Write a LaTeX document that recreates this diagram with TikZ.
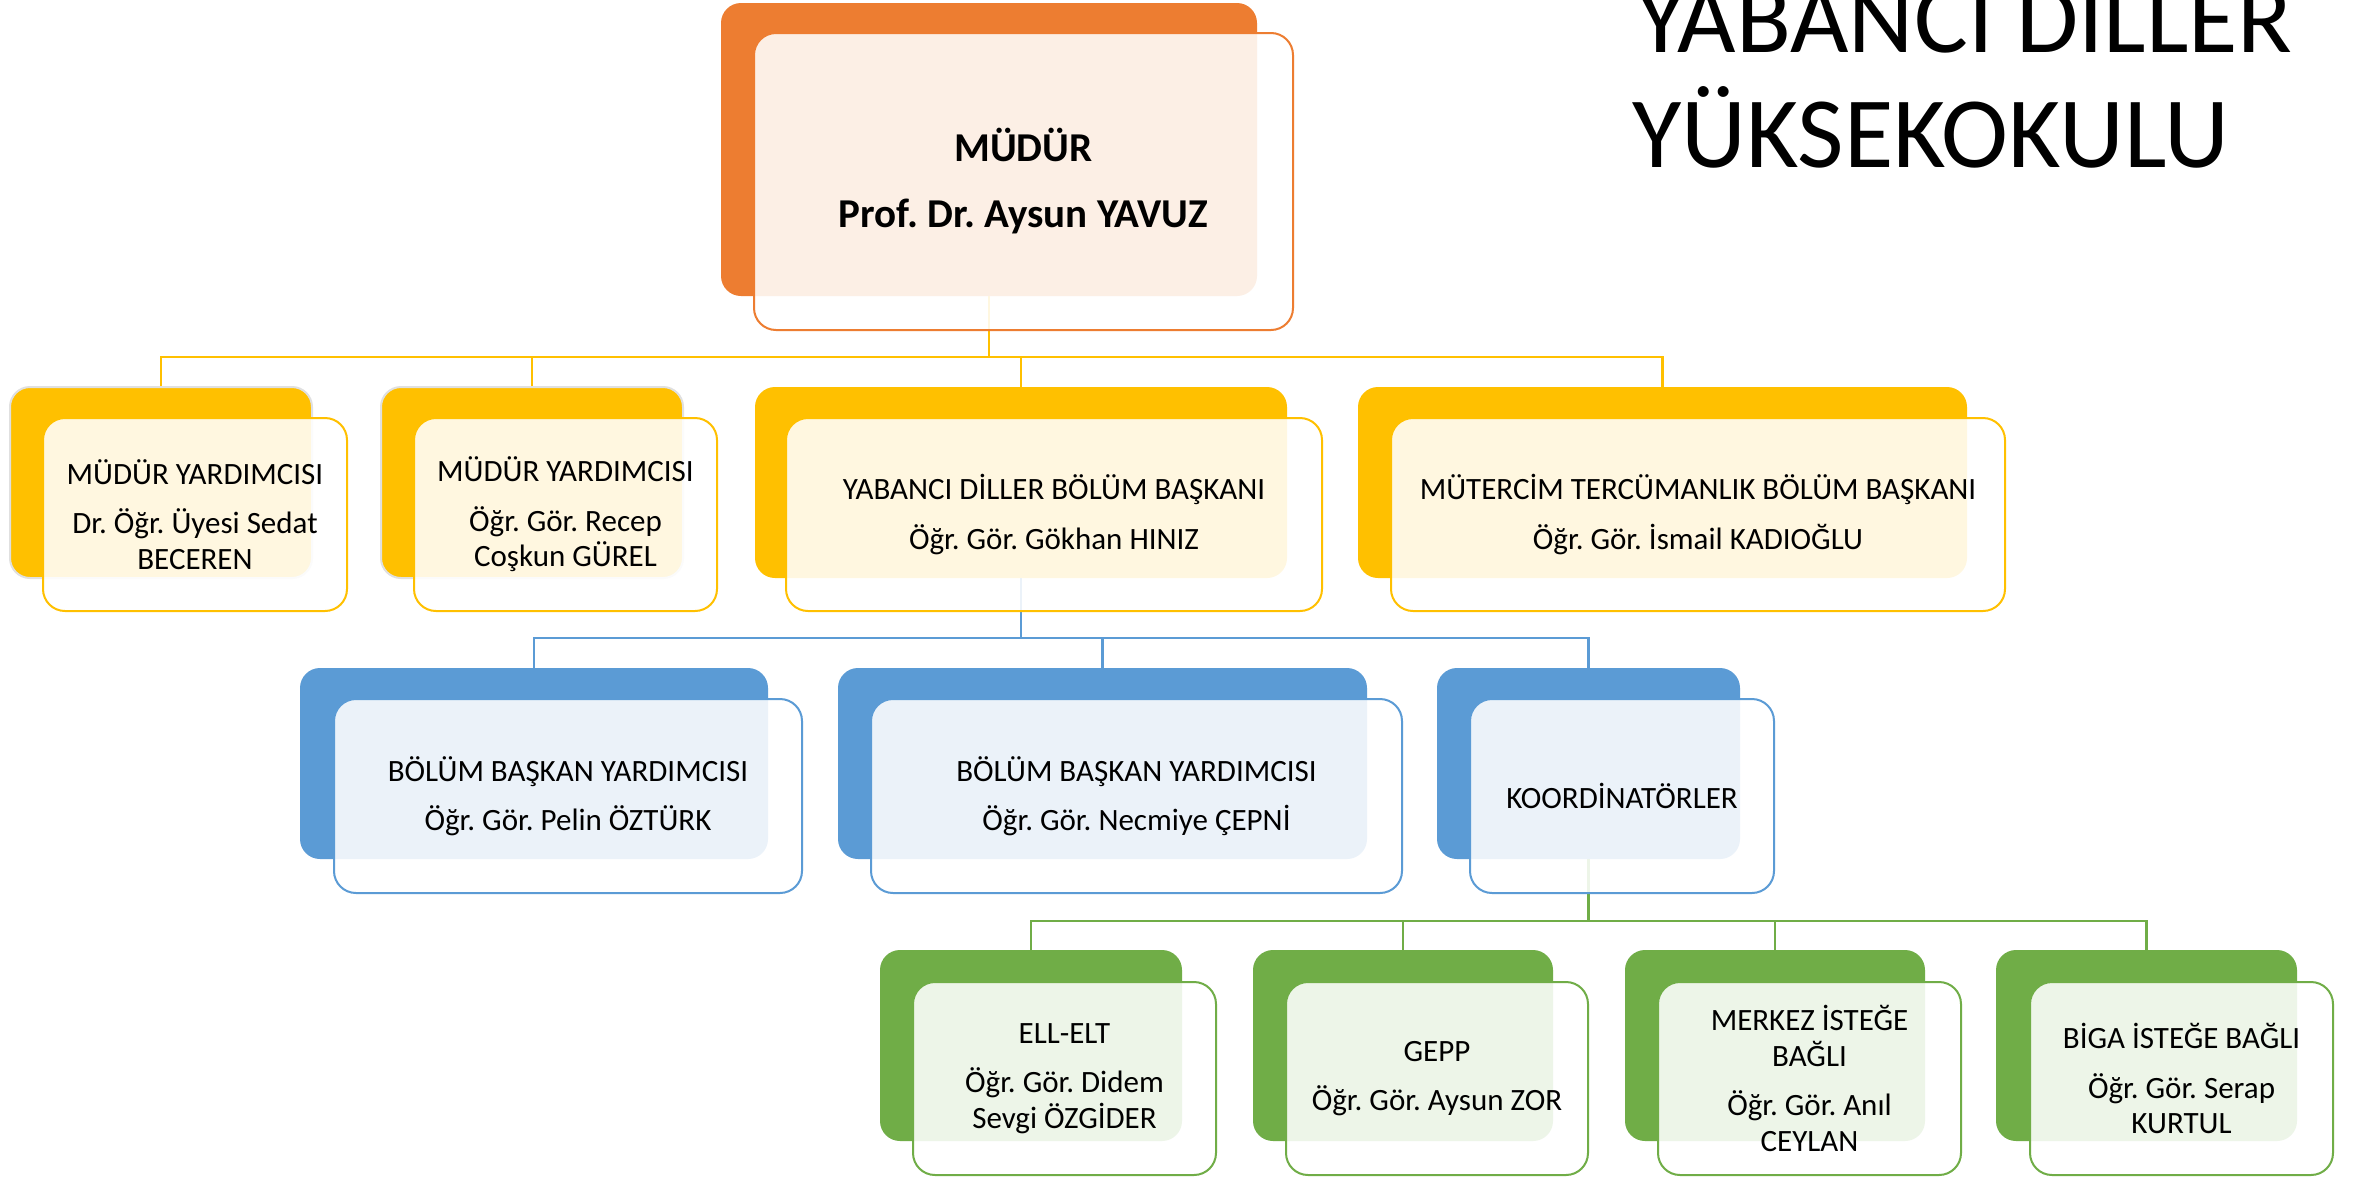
\documentclass[tikz,border=0pt]{standalone}
\usepackage{fontspec}
\setmainfont{Carlito}
\frenchspacing
\definecolor{corange}{HTML}{ED7D31}
\definecolor{cyellow}{HTML}{FFC000}
\definecolor{cblue}{HTML}{5B9BD5}
\definecolor{cgreen}{HTML}{70AD47}
\begin{document}
\frenchspacing
\begin{tikzpicture}[x=1pt,y=-1pt,
  back/.style={fill=#1, rounded corners=20pt, inner sep=0pt},
  front/.style={draw=#1, line width=2pt, fill=white, fill opacity=0.88, text opacity=1,
    rounded corners=22pt, inner sep=0pt, align=center, font=\fontsize{31}{35.5}\selectfont},
  conn/.style={draw=#1, line width=2.5pt},
  rowy/.style={minimum height=191pt},
  rowf/.style={minimum height=193pt},
  title/.style={anchor=base west, inner sep=0pt, font=\fontsize{101}{110}\selectfont}
]
\clip (0,0) rectangle (2364,1176);
\fill[white] (0,0) rectangle (2364,1176);

% ---------- back boxes ----------
\node[back=corange, minimum width=536pt, minimum height=293pt] (topb) at (989,149.5) {};
\node[back=cyellow, rowy, minimum width=302pt, draw=black!12, line width=2pt] (y1b) at (161,482.5) {};
\node[back=cyellow, rowy, minimum width=302pt, draw=black!12, line width=2pt] (y2b) at (532,482.5) {};
\node[back=cyellow, rowy, minimum width=532pt] (y3b) at (1021,482.5) {};
\node[back=cyellow, rowy, minimum width=609pt] (y4b) at (1662.5,482.5) {};
\node[back=cblue, rowy, minimum width=468pt] (b1b) at (534,763.5) {};
\node[back=cblue, rowy, minimum width=529pt] (b2b) at (1102.5,763.5) {};
\node[back=cblue, rowy, minimum width=303pt] (b3b) at (1588.5,763.5) {};
\node[back=cgreen, rowy, minimum width=302pt] (g1b) at (1031,1045.5) {};
\node[back=cgreen, rowy, minimum width=300pt] (g2b) at (1403,1045.5) {};
\node[back=cgreen, rowy, minimum width=300pt] (g3b) at (1775,1045.5) {};
\node[back=cgreen, rowy, minimum width=301pt] (g4b) at (2146.5,1045.5) {};

% ---------- connectors ----------
\coordinate (h1) at (0,357);
\coordinate (h2) at (0,638);
\coordinate (h3) at (0,921);
\draw[conn=cyellow] (topb.south) -- (topb.south |- h1);
\draw[conn=cyellow] (y1b.north) -- (y1b.north |- h1) -- (y4b.north |- h1) -- (y4b.north);
\draw[conn=cyellow] (y2b.north) -- (y2b.north |- h1);
\draw[conn=cyellow] (y3b.north) -- (y3b.north |- h1);
\draw[conn=cblue] (y3b.south) -- (y3b.south |- h2);
\draw[conn=cblue] (b1b.north) -- (b1b.north |- h2) -- (b3b.north |- h2) -- (b3b.north);
\draw[conn=cblue] (b2b.north) -- (b2b.north |- h2);
\draw[conn=cgreen] (b3b.south) -- (b3b.south |- h3);
\draw[conn=cgreen] (g1b.north) -- (g1b.north |- h3) -- (g4b.north |- h3) -- (g4b.north);
\draw[conn=cgreen] (g2b.north) -- (g2b.north |- h3);
\draw[conn=cgreen] (g3b.north) -- (g3b.north |- h3);

% ---------- front boxes ----------
\node[front=corange, minimum width=539pt, minimum height=297pt,
  font=\fontsize{41}{50}\selectfont\bfseries] (topf) at (1023.5,181.5)
  {MÜDÜR\\[16pt]Prof. Dr. Aysun YAVUZ};
\node[front=cyellow, rowf, minimum width=304pt] (y1f) at (195,514.5)
  {MÜDÜR YARDIMCISI\\[14pt]Dr. Öğr. Üyesi Sedat\\BECEREN};
\node[front=cyellow, rowf, minimum width=303pt] (y2f) at (565.5,514.5)
  {MÜDÜR YARDIMCISI\\[14pt]Öğr. Gör. Recep\\Coşkun GÜREL};
\node[front=cyellow, rowf, minimum width=536pt] (y3f) at (1054,514.5)
  {YABANCI DİLLER BÖLÜM BAŞKANI\\[14pt]Öğr. Gör. Gökhan HINIZ};
\node[front=cyellow, rowf, minimum width=614pt] (y4f) at (1698,514.5)
  {MÜTERCİM TERCÜMANLIK BÖLÜM BAŞKANI\\[14pt]Öğr. Gör. İsmail KADIOĞLU};
\node[front=cblue, minimum height=194pt, minimum width=468pt] (b1f) at (568,796)
  {BÖLÜM BAŞKAN YARDIMCISI\\[14pt]Öğr. Gör. Pelin ÖZTÜRK};
\node[front=cblue, minimum height=194pt, minimum width=531pt] (b2f) at (1136.5,796)
  {BÖLÜM BAŞKAN YARDIMCISI\\[14pt]Öğr. Gör. Necmiye ÇEPNİ};
\node[front=cblue, minimum height=194pt, minimum width=304pt] (b3f) at (1622,796)
  {KOORDİNATÖRLER};
\node[front=cgreen, rowf, minimum width=303pt] (g1f) at (1064.5,1078.5)
  {ELL-ELT\\[14pt]Öğr. Gör. Didem\\Sevgi ÖZGİDER};
\node[front=cgreen, rowf, minimum width=302pt] (g2f) at (1437,1078.5)
  {GEPP\\[14pt]Öğr. Gör. Aysun ZOR};
\node[front=cgreen, rowf, minimum width=303pt] (g3f) at (1809.5,1078.5)
  {MERKEZ İSTEĞE\\BAĞLI\\[14pt]Öğr. Gör. Anıl\\CEYLAN};
\node[front=cgreen, rowf, minimum width=303pt] (g4f) at (2181.5,1078.5)
  {BİGA İSTEĞE BAĞLI\\[14pt]Öğr. Gör. Serap\\KURTUL};

% ---------- title ----------
\node[title] (t1) at (1636,52) {YABANCI DİLLER};
\node[title] (t2) at (1632,167) {YÜKSEKOKULU};
\end{tikzpicture}
\end{document}
